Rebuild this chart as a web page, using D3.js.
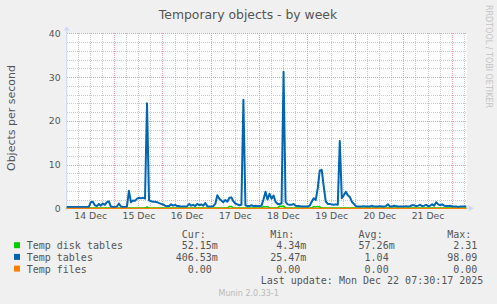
<!DOCTYPE html>
<html><head><meta charset="utf-8">
<script src="https://cdn.jsdelivr.net/npm/d3@7/dist/d3.min.js"></script>
<style>
html,body{margin:0;padding:0;background:#f0f0f0;}
svg{display:block;}
text{font-family:"DejaVu Sans",sans-serif;}
.mono{font-family:"DejaVu Sans Mono",monospace;font-size:10px;fill:#555;white-space:pre;}
</style></head>
<body>
<svg id="c" width="497" height="304"></svg>
<script>
// ---------- data (hourly samples from 14 Dec 00:18 UTC) ----------
const startTime = Date.UTC(2025, 11, 14, 0, 18);
const endTime = Date.UTC(2025, 11, 22, 7, 30);
const stepMs = 3600e3;

const tempTables = [
  0.3,0.3,0.3,0.3,0.3,0.3,0.3,0.3,0.3,0.3,
  0.3,0.3,1.4,1.5,0.7,0.5,1.0,0.6,1.1,0.8,
  1.4,1.6,0.4,0.3,0.3,0.4,1.1,0.4,0.3,0.3,
  0.4,4.0,1.4,1.8,1.7,2.2,2.4,2.3,2.4,2.2,
  24.0,1.8,1.6,1.5,1.5,1.4,1.2,1.0,0.9,0.6,
  0.5,0.5,0.9,0.6,0.8,0.5,0.5,0.4,0.4,0.4,
  0.5,1.0,0.6,0.8,0.5,1.0,0.7,0.9,0.6,1.2,
  0.5,0.4,0.4,0.5,1.0,3.0,2.2,1.8,1.4,1.9,
  1.5,2.4,2.5,1.6,1.1,0.9,0.7,0.8,24.8,0.7,
  0.5,0.5,0.7,0.5,0.6,0.5,0.5,0.6,2.0,3.8,
  2.0,3.3,2.2,2.9,1.5,1.0,1.0,1.1,31.2,1.5,
  0.9,0.8,0.8,1.0,0.6,0.5,0.5,0.4,0.4,0.4,
  0.4,0.6,1.5,2.3,1.9,4.5,8.6,8.8,5.0,1.6,
  1.0,1.0,0.9,0.8,0.9,0.8,15.4,2.3,3.0,3.8,
  3.0,2.6,1.5,1.0,0.5,0.4,0.4,0.4,0.5,0.4,
  0.4,0.4,0.6,0.4,0.4,0.4,0.5,0.4,0.4,0.5,
  0.9,0.4,0.4,0.6,0.5,0.4,0.4,0.4,0.4,0.5,
  0.4,0.5,0.7,0.7,0.5,0.6,0.8,0.5,0.6,0.8,
  0.5,0.6,0.9,0.6,1.4,0.9,0.7,0.9,0.6,0.5,
  0.5,0.6,0.4,0.4,0.4,0.3,0.4,0.4,0.4,0.4
];

const tempDiskTables = [
  0.05,0.05,0.05,0.05,0.05,0.05,0.05,0.05,0.05,0.05,
  0.05,0.05,0.05,0.05,0.05,0.05,0.05,0.05,0.05,0.05,
  0.05,0.05,0.05,0.05,0.05,0.05,0.05,0.05,0.05,0.05,
  0.05,0.05,0.05,0.05,0.05,0.05,0.05,0.05,0.05,0.05,
  0.3,0.05,0.05,0.05,0.05,0.05,0.05,0.05,0.05,0.05,
  0.05,0.05,0.05,0.05,0.05,0.05,0.05,0.05,0.05,0.05,
  0.05,0.05,0.05,0.05,0.05,0.05,0.05,0.05,0.05,0.05,
  0.05,0.05,0.05,0.05,0.05,0.05,0.05,0.05,0.05,0.05,
  0.05,0.4,0.4,0.05,0.05,0.05,0.05,0.05,0.05,0.05,
  0.05,0.05,0.05,0.05,0.05,0.05,0.05,0.05,0.4,0.3,
  0.4,0.05,0.05,0.05,0.05,0.05,0.5,0.4,0.5,0.05,
  0.05,0.05,0.05,0.05,0.05,0.05,0.05,0.05,0.05,0.05,
  0.05,0.05,0.05,0.4,0.3,0.4,0.3,0.05,0.05,0.05,
  0.05,0.05,0.05,0.05,0.05,0.05,0.05,0.05,0.05,0.05,
  0.05,0.05,0.05,0.05,0.05,0.05,0.05,0.05,0.05,0.05,
  0.05,0.05,0.05,0.05,0.05,0.05,0.05,0.05,0.05,0.05,
  0.05,0.05,0.05,0.05,0.05,0.05,0.05,0.05,0.05,0.05,
  0.05,0.05,0.05,0.05,0.05,0.05,0.05,0.05,0.05,0.05,
  0.05,0.05,0.05,0.05,0.05,0.05,0.05,0.05,0.05,0.05,
  0.05,0.05,0.05,0.05,0.05,0.05,0.05,0.05,0.05,0.05
];

const tempFiles = [
  0,0,0,0,0,0,0,0,0,0, 0,0,0,0,0,0,0,0,0,0,
  0,0,0,0,0,0,0,0,0,0, 0,0,0,0,0,0,0,0,0,0,
  0,0,0,0,0,0,0,0,0,0, 0,0,0,0,0,0,0,0,0,0,
  0,0,0,0,0,0,0,0,0,0, 0,0,0,0,0,0,0,0,0,0,
  0,0,0,0,0,0,0,0,0,0, 0,0,0,0,0,0,0,0,0,0,
  0,0,0,0,0,0,0,0,0,0, 0,0,0,0,0,0,0,0,0,0,
  0,0,0,0,0,0,0,0,0,0, 0,0,0,0,0,0,0,0,0,0,
  0,0,0,0,0,0,0,0,0,0, 0,0,0,0,0,0,0,0,0,0,
  0,0,0,0,0,0,0,0,0,0, 0,0,0,0,0,0,0,0,0,0,
  0,0,0,0,0,0,0,0,0,0, 0,0,0,0,0,0,0,0,0,0
];

const seriesNames = ["Temp disk tables", "Temp tables", "Temp files"];
const seriesColors = ["#00cc00", "#0066b3", "#ff8000"];
const curValues = ["52.15m", "406.53m", "0.00"];
const minValues = ["4.34m", "25.47m", "0.00"];
const avgValues = ["57.26m", "1.04", "0.00"];
const maxValues = ["2.31", "98.09", "0.00"];
const yTickValues = [0, 10, 20, 30, 40];
const xTickLabels = ["14 Dec","15 Dec","16 Dec","17 Dec","18 Dec","19 Dec","20 Dec","21 Dec"];

// ---------- drawing ----------
const svg = d3.select("#c");
const L = 66.7, R = 466.7, T = 33.3, B = 208.3;
const x = d3.scaleUtc().domain([startTime, endTime]).range([L, R]);
const y = d3.scaleLinear().domain([0, 40]).range([B, T]);

svg.append("rect").attr("x", L).attr("y", T).attr("width", R - L).attr("height", B - T).attr("fill", "#fff");

const grid = svg.append("g").attr("shape-rendering", "crispEdges");
const minorX = d3.utcHour.every(6).range(new Date(startTime), new Date(endTime));
const majorX = d3.utcDay.range(new Date(startTime), new Date(endTime));
const minorY = d3.range(0, 41, 2);
const minC = "#cacaca", majC = "#ee9c9c";
grid.selectAll(".mx").data(minorX).enter().append("line")
  .attr("x1", d => Math.round(x(d)) + 0.5).attr("x2", d => Math.round(x(d)) + 0.5)
  .attr("y1", T).attr("y2", B).attr("stroke", minC).attr("stroke-dasharray", "1,1");
grid.selectAll(".my").data(minorY).enter().append("line")
  .attr("y1", d => Math.round(y(d)) + 0.5).attr("y2", d => Math.round(y(d)) + 0.5)
  .attr("x1", L).attr("x2", R).attr("stroke", minC).attr("stroke-dasharray", "1,1");
grid.selectAll(".Mx").data(majorX).enter().append("line")
  .attr("x1", d => Math.round(x(d)) + 0.5).attr("x2", d => Math.round(x(d)) + 0.5)
  .attr("y1", T).attr("y2", B).attr("stroke", majC).attr("stroke-dasharray", "1,1");
grid.selectAll(".My").data(yTickValues).enter().append("line")
  .attr("y1", d => Math.round(y(d)) + 0.5).attr("y2", d => Math.round(y(d)) + 0.5)
  .attr("x1", L).attr("x2", R).attr("stroke", majC).attr("stroke-dasharray", "1,1");

// axis lines + arrows
const axc = "#cfd6f8";
svg.append("line").attr("x1", L).attr("x2", L).attr("y1", B + 2).attr("y2", T - 3).attr("stroke", axc);
svg.append("line").attr("x1", L - 2).attr("x2", R + 2).attr("y1", B).attr("y2", B).attr("stroke", axc);
svg.append("path").attr("d", `M${L-3},${T-3} L${L+3},${T-3} L${L},${T-7} Z`).attr("fill", axc);
svg.append("path").attr("d", `M${R+2},${B-3} L${R+2},${B+3} L${R+7},${B} Z`).attr("fill", axc);

// axes (labels)
const noonTicks = d3.utcDay.range(d3.utcDay.floor(new Date(startTime)), new Date(endTime))
  .map(d => d3.utcHour.offset(d, 12)).filter(d => +d >= startTime && +d <= endTime);
const xAxis = d3.axisBottom(x).tickValues(noonTicks).tickSize(0).tickPadding(4)
  .tickFormat((d, i) => xTickLabels[i]);
const gx = svg.append("g").attr("transform", `translate(0,${B})`).call(xAxis);
gx.select(".domain").remove();
gx.selectAll("text").attr("font-family", "DejaVu Sans").attr("font-size", "9.3px").attr("fill", "#555");

const yAxis = d3.axisLeft(y).tickValues(yTickValues).tickSize(0).tickPadding(6);
const gy = svg.append("g").attr("transform", `translate(${L},0)`).call(yAxis);
gy.select(".domain").remove();
gy.selectAll("text").attr("font-family", "DejaVu Sans").attr("font-size", "9.3px").attr("fill", "#555");

// series
const idx = d3.range(tempTables.length);
const line = vals => d3.line().x(i => x(startTime + i * stepMs)).y(i => y(vals[i]))(idx);
const allSeries = [tempDiskTables, tempTables, tempFiles];
const widths = [1.6, 2, 1.2];
allSeries.forEach((vals, k) => {
  svg.append("path").attr("d", line(vals)).attr("fill", "none")
    .attr("stroke", seriesColors[k]).attr("stroke-width", widths[k]).attr("stroke-linejoin", "round");
});

// title & labels
svg.append("text").attr("x", 248).attr("y", 18.5).attr("text-anchor", "middle")
  .attr("font-size", "12.4px").attr("fill", "#555").text("Temporary objects - by week");
svg.append("text").attr("transform", "translate(15,118) rotate(-90)").attr("text-anchor", "middle")
  .attr("font-size", "11px").attr("fill", "#555").text("Objects per second");
svg.append("text").attr("transform", "translate(486,5) rotate(90)").attr("text-anchor", "start")
  .attr("font-size", "8px").attr("fill", "#c4c4c4").text("RRDTOOL / TOBI OETIKER");

// legend
const cw = 6.02;
const colRight = [217.8, 306.3, 394.7, 483.4];
const headers = ["Cur:", "Min:", "Avg:", "Max:"];
headers.forEach((h, j) => {
  svg.append("text").attr("class", "mono").attr("x", colRight[j] - 6 * cw).attr("y", 237.5).text(h);
});
const rowY = [249.2, 260.9, 272.6];
const cols = [curValues, minValues, avgValues, maxValues];
seriesNames.forEach((name, k) => {
  svg.append("rect").attr("x", 14).attr("y", rowY[k] - 7).attr("width", 6).attr("height", 6).attr("fill", seriesColors[k]);
  svg.append("text").attr("class", "mono").attr("x", 26.7).attr("y", rowY[k]).text(name);
  cols.forEach((col, j) => {
    const v = col[k];
    const hasSuffix = /[a-zA-Z]$/.test(v);
    svg.append("text").attr("class", "mono").attr("text-anchor", "end")
      .attr("x", colRight[j] - (hasSuffix ? 0 : cw)).attr("y", rowY[k]).text(v);
  });
});
svg.append("text").attr("class", "mono").attr("text-anchor", "end").attr("x", 483.4).attr("y", 284.3)
  .text("Last update: Mon Dec 22 07:30:17 2025");
svg.append("text").attr("x", 248.7).attr("y", 296).attr("text-anchor", "middle")
  .attr("font-size", "8px").attr("fill", "#bbb").text("Munin 2.0.33-1");
</script>
</body></html>
